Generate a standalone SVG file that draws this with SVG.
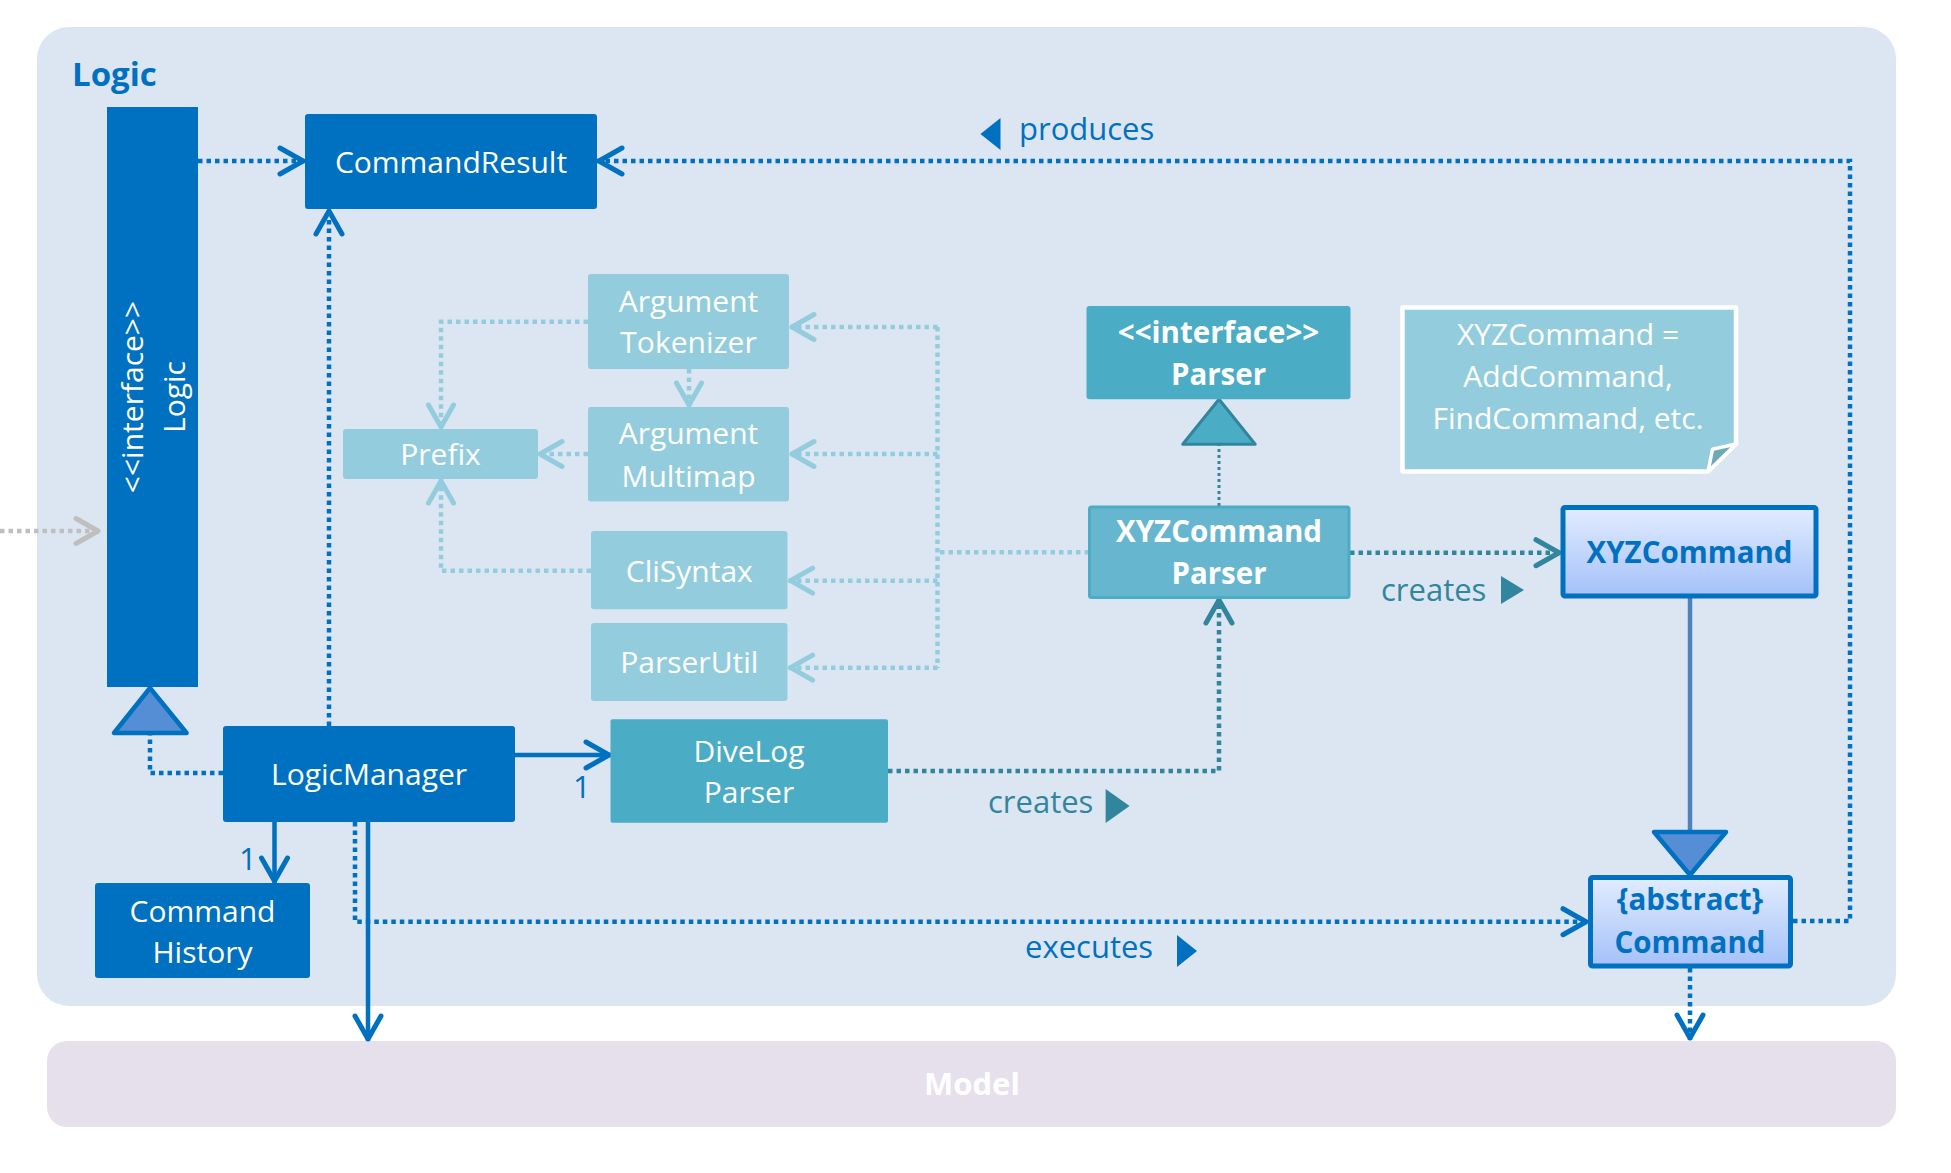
<svg xmlns="http://www.w3.org/2000/svg" width="1951" height="1173" viewBox="0 0 1951 1173">
<defs>
<style>
text{font-family:"Open Sans","Liberation Sans",sans-serif;font-size:30px;fill:#fff;text-anchor:middle}
.b{font-weight:bold;font-size:29.5px}
.lbl{font-size:31px;text-anchor:start}
.blue{fill:#0070C0}
.teal{fill:#31859C}
.dk{fill:#0070C0}
.tl{fill:#4BACC6}
.lt{fill:#93CDDD}
.dotB{fill:none;stroke:#0070C0;stroke-width:4.5;stroke-dasharray:4.5 4}
.dotT{fill:none;stroke:#31859C;stroke-width:4.5;stroke-dasharray:4.5 4}
.dotL{fill:none;stroke:#93CDDD;stroke-width:4.5;stroke-dasharray:4.5 4}
.dotG{fill:none;stroke:#BFBFBF;stroke-width:4.5;stroke-dasharray:4.5 4}
.solB{fill:none;stroke:#0070C0;stroke-width:4.5}
</style>
<linearGradient id="grad" x1="0" y1="0" x2="0" y2="1">
<stop offset="0" stop-color="#E2ECFE"/>
<stop offset="1" stop-color="#A4C1F9"/>
</linearGradient>
<marker id="aB" markerUnits="userSpaceOnUse" markerWidth="40" markerHeight="40" viewBox="-32 -20 40 40" refX="0" refY="0" orient="auto"><path d="M-25,-13 L-2,0 L-25,13" fill="none" stroke="#0070C0" stroke-width="5" stroke-linecap="round" stroke-linejoin="round"/></marker>
<marker id="aT" markerUnits="userSpaceOnUse" markerWidth="40" markerHeight="40" viewBox="-32 -20 40 40" refX="0" refY="0" orient="auto"><path d="M-25,-13 L-2,0 L-25,13" fill="none" stroke="#31859C" stroke-width="5" stroke-linecap="round" stroke-linejoin="round"/></marker>
<marker id="aL" markerUnits="userSpaceOnUse" markerWidth="40" markerHeight="40" viewBox="-32 -20 40 40" refX="0" refY="0" orient="auto"><path d="M-24,-12.5 L-2,0 L-24,12.5" fill="none" stroke="#93CDDD" stroke-width="5" stroke-linecap="round" stroke-linejoin="round"/></marker>
<marker id="aG" markerUnits="userSpaceOnUse" markerWidth="40" markerHeight="40" viewBox="-32 -20 40 40" refX="0" refY="0" orient="auto"><path d="M-24,-12.5 L-2,0 L-24,12.5" fill="none" stroke="#BFBFBF" stroke-width="5" stroke-linecap="round" stroke-linejoin="round"/></marker>
</defs>

<g id="logic-package">
<rect x="37" y="27" width="1859" height="979" rx="32" fill="#DCE6F2"/>
<text class="b blue" x="72" y="86" style="font-size:33px;text-anchor:start">Logic</text>
</g>
<g id="model-package">
<rect x="47" y="1041" width="1849" height="86" rx="20" fill="#E5E0EC"/>
<text class="b" x="972" y="1095" style="font-size:31px">Model</text>
</g>

<g id="connectors">
<path class="dotG" d="M0,531 H100" marker-end="url(#aG)"/>
<path class="dotB" d="M198,161 H305" marker-end="url(#aB)"/>
<path class="dotB" d="M1793,921 H1850 V161 H597" marker-end="url(#aB)"/>
<path class="dotB" d="M329,726 V209" marker-end="url(#aB)"/>
<path class="dotB" d="M223,773 H150 V734"/>
<polygon points="150,688 114,733 186.6,733" fill="#558ED5" stroke="#0070C0" stroke-width="4.5" stroke-linejoin="round"/>
<path class="solB" d="M515,755 H611" marker-end="url(#aB)"/>
<text class="lbl blue" x="573" y="798">1</text>
<path class="solB" d="M274.5,822 V883" marker-end="url(#aB)"/>
<text class="lbl blue" x="239" y="870">1</text>
<path class="solB" d="M368,822 V1041" marker-end="url(#aB)"/>
<path class="dotB" d="M355,822 V921.7 H1588" marker-end="url(#aB)"/>
<text class="lbl blue" x="1025" y="958">executes</text>
<polygon points="1177,935 1197,951 1177,967" fill="#0070C0"/>
<polygon points="1000.5,118 980.4,134 1000.5,150" fill="#0070C0"/>
<text class="lbl blue" x="1019" y="140">produces</text>
<path class="dotT" d="M888,771 H1219 V598" marker-end="url(#aT)"/>
<text class="lbl teal" x="988" y="813">creates</text>
<polygon points="1105.6,789 1129.6,806 1105.6,823" fill="#31859C"/>
<path class="dotT" d="M1350,552.7 H1561" marker-end="url(#aT)"/>
<text class="lbl teal" x="1381" y="600.7">creates</text>
<polygon points="1501,576 1524,590 1501,604" fill="#31859C"/>
<path d="M1219,506 V444.3" fill="none" stroke="#31859C" stroke-width="3" stroke-dasharray="3 3"/>
<polygon points="1219,399.3 1182.7,444.3 1255.2,444.3" fill="#4BACC6" stroke="#31859C" stroke-width="3" stroke-linejoin="round"/>
<path d="M1690,598 V832" fill="none" stroke="#4F81BD" stroke-width="4.5"/>
<polygon points="1654,832 1726,832 1690,875" fill="#558ED5" stroke="#0070C0" stroke-width="4.5" stroke-linejoin="round"/>
<path class="dotB" d="M1690,968 V1040" marker-end="url(#aB)"/>
<path class="dotL" d="M1089,552.3 H937.5"/>
<path class="dotL" d="M937.5,327 V668"/>
<path class="dotL" d="M937.5,327 H790" marker-end="url(#aL)"/>
<path class="dotL" d="M937.5,454 H790" marker-end="url(#aL)"/>
<path class="dotL" d="M937.5,580.7 H788.6" marker-end="url(#aL)"/>
<path class="dotL" d="M937.5,667.7 H788.6" marker-end="url(#aL)"/>
<path class="dotL" d="M689,369 V407" marker-end="url(#aL)"/>
<path class="dotL" d="M588,321.7 H441 V429" marker-end="url(#aL)"/>
<path class="dotL" d="M588,454 H538" marker-end="url(#aL)"/>
<path class="dotL" d="M591,570.7 H441 V479" marker-end="url(#aL)"/>
</g>

<g id="node-logic-interface">
<rect x="107" y="107" width="91" height="580" class="dk"/>
<text transform="translate(143,397) rotate(-90)">&lt;&lt;interface&gt;&gt;</text>
<text transform="translate(185,397) rotate(-90)">Logic</text>
</g>
<g id="node-commandresult">
<rect x="305" y="114" width="292" height="95" rx="3" class="dk"/>
<text x="451" y="172.5">CommandResult</text>
</g>
<g id="node-logicmanager">
<rect x="223" y="726" width="292" height="96" rx="3" class="dk"/>
<text x="369" y="785">LogicManager</text>
</g>
<g id="node-commandhistory">
<rect x="95" y="883" width="215" height="95" rx="3" class="dk"/>
<text x="202.5" y="921.7">Command</text>
<text x="202.5" y="963.3">History</text>
</g>
<g id="node-divelogparser">
<rect x="610.5" y="719.3" width="277.5" height="103.4" rx="2" class="tl"/>
<text x="749" y="761.7">DiveLog</text>
<text x="749" y="803.3">Parser</text>
</g>
<g id="node-argumenttokenizer">
<rect x="588" y="274" width="201" height="95" rx="3" class="lt"/>
<text x="688.5" y="311.7">Argument</text>
<text x="688.5" y="353.3">Tokenizer</text>
</g>
<g id="node-argumentmultimap">
<rect x="588" y="407" width="201" height="94.5" rx="3" class="lt"/>
<text x="688.5" y="444.3">Argument</text>
<text x="688.5" y="486.7">Multimap</text>
</g>
<g id="node-clisyntax">
<rect x="591" y="531" width="196.5" height="78.3" rx="3" class="lt"/>
<text x="689.3" y="581.7">CliSyntax</text>
</g>
<g id="node-parserutil">
<rect x="591" y="623" width="196.5" height="78" rx="3" class="lt"/>
<text x="689.3" y="673.3">ParserUtil</text>
</g>
<g id="node-prefix">
<rect x="343" y="429" width="195" height="50" rx="3" class="lt"/>
<text x="440.5" y="465">Prefix</text>
</g>
<g id="node-parser">
<rect x="1086.5" y="306" width="264" height="93.3" rx="3" class="tl"/>
<text class="b" x="1218.5" y="343.3">&lt;&lt;interface&gt;&gt;</text>
<text class="b" x="1218.5" y="385">Parser</text>
</g>
<g id="node-xyzcommandparser">
<rect x="1089.5" y="507" width="259.5" height="90.5" rx="2" fill="#67B6CF" stroke="#4BACC6" stroke-width="3"/>
<text class="b" x="1219" y="541.7">XYZCommand</text>
<text class="b" x="1219" y="584">Parser</text>
</g>
<g id="node-note">
<path d="M1402.5,307.5 H1736 V444 L1708,471.5 H1402.5 Z" fill="#93CDDD" stroke="#fff" stroke-width="4.5" stroke-linejoin="round"/>
<path d="M1708,471.5 L1712.5,449.3 L1736,444 Z" fill="#6FA9B8" stroke="#fff" stroke-width="3.5" stroke-linejoin="round"/>
<text x="1568" y="345">XYZCommand =</text>
<text x="1568" y="387.3">AddCommand,</text>
<text x="1568" y="429.3">FindCommand, etc.</text>
</g>
<g id="node-xyzcommand">
<rect x="1563" y="507.5" width="253" height="88.5" rx="2" fill="url(#grad)" stroke="#0070C0" stroke-width="5"/>
<text class="b blue" x="1689.5" y="562.7">XYZCommand</text>
</g>
<g id="node-command">
<rect x="1590.5" y="877.5" width="200" height="88.5" rx="2" fill="url(#grad)" stroke="#0070C0" stroke-width="5"/>
<text class="b blue" x="1690" y="910">{abstract}</text>
<text class="b blue" x="1690" y="952.7">Command</text>
</g>
</svg>
